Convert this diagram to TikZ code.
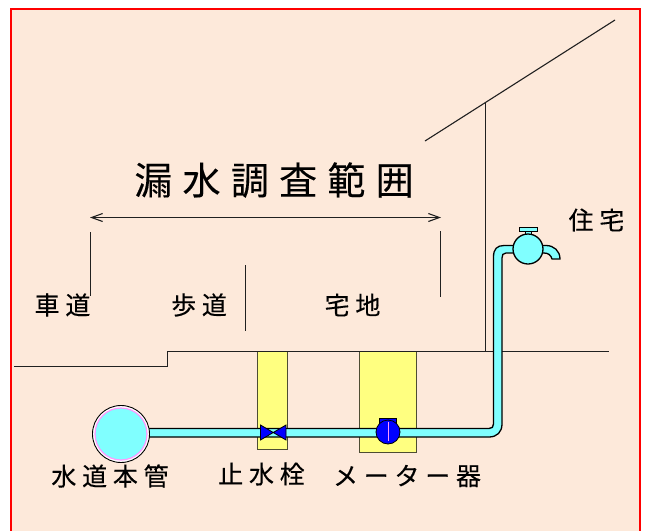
\documentclass[tikz,border=0pt]{standalone}
\usepackage{fontspec}
\usetikzlibrary{arrows.meta}
\newfontfamily\jpsmall[LetterSpace=23,FakeBold=0.25]{Noto Sans CJK JP}
\newfontfamily\jptitle[LetterSpace=27,FakeBold=0.25]{Noto Sans CJK JP}
\definecolor{bgpeach}{HTML}{FDE9DA}
\definecolor{pipecyan}{HTML}{80FFFF}
\definecolor{pityellow}{HTML}{FFFF80}
\definecolor{ringpink}{HTML}{FF99FF}
\definecolor{lineink}{HTML}{202020}
\tikzset{
  x=1pt,y=-1pt,
  thinline/.style={draw=lineink,line width=1.1pt},
  pit/.style={fill=pityellow,draw=lineink!80!pityellow,line width=1.1pt},
  pipe/.style={fill=pipecyan,draw=black,line width=1.3pt},
  fitting/.style={fill=blue,draw=black,line width=.8pt},
  lab/.style={inner sep=0pt,text=black,font=\fontsize{25}{25}\jpsmall},
  titlelab/.style={inner sep=0pt,text=black,font=\fontsize{38}{38}\jptitle},
}
\begin{document}
\begin{tikzpicture}
\useasboundingbox (0,0) rectangle (649,531);
\fill[white] (0,0) rectangle (649,531);
\fill[bgpeach] (11,9) rectangle (640,540);
\draw[red,line width=2pt] (11,9) -- (640,9) (11,8) -- (11,531) (640,8) -- (640,531);
% roof and wall
\coordinate (roofL) at (425,141);
\coordinate (roofR) at (615,20);
\coordinate (wallT) at (485.5,102);
\coordinate (wallB) at (485.5,351.5);
\draw[thinline] (roofL) -- (roofR);
\draw[thinline] (wallT) -- (wallB);
% pits
\path[pit] (257.5,351.5) rectangle (287.5,449.5);
\path[pit] (359.5,351.5) rectangle (416.5,452.5);
% ground
\coordinate (gL) at (14,366.5);
\coordinate (gR) at (609,351.5);
\draw[thinline] (gL) -- (167.5,366.5) -- (167.5,351.5) -- (gR);
% range arrow and ticks
\coordinate (arL) at (90,217.5);
\coordinate (arR) at (441,217.5);
\draw[thinline,{Straight Barb[length=11pt,width=8pt]}-{Straight Barb[length=11pt,width=8pt]}] (arL) -- (arR);
\coordinate (t1a) at (90.5,232); \coordinate (t1b) at (90.5,296);
\coordinate (t2a) at (245.5,265); \coordinate (t2b) at (245.5,331);
\coordinate (t3a) at (440.5,231); \coordinate (t3b) at (440.5,297);
\draw[thinline] (t1a) -- (t1b);
\draw[thinline] (t2a) -- (t2b);
\draw[thinline] (t3a) -- (t3b);
% pipe
\path[pipe] (148,428.5) -- (489,428.5)
  .. controls (492,428.5) and (493.5,427) .. (493.5,424)
  -- (493.5,257) .. controls (493.5,249) and (497,245.5) .. (504,245.5)
  -- (515,245.5) -- (515,253) -- (506,253)
  .. controls (503,253) and (502,255) .. (502,258)
  -- (502,424) .. controls (502,432) and (497,437) .. (489,437)
  -- (148,437) -- cycle;
% tap spout
\path[pipe] (540,245.5) -- (546,245.5) .. controls (554,245.5) and (560,251) .. (560,259)
  -- (552,259) .. controls (551,255) and (548,253) .. (544,253) -- (540,253) -- cycle;
% tap stem and handle
\path[pipe,line width=.9pt] (525,231) rectangle (531,238);
\path[pipe,line width=.9pt] (519,227) rectangle (537,231);
% tap body
\node[circle,pipe,minimum size=30pt,inner sep=0pt] (tap) at (528,249) {};
% main
\node[circle,draw=black,fill=white,line width=.9pt,minimum size=57pt,inner sep=0pt] (mainouter) at (121,434) {};
\node[circle,draw=ringpink,fill=pipecyan,line width=1.2pt,minimum size=52pt,inner sep=0pt] (mainpipe) at (121,434) {};
% valve
\path[fitting] (260.5,425) -- (286,440) -- (286,425) -- (260.5,440) -- cycle;
% meter
\path[fitting] (379,418) rectangle (396,425);
\node[circle,fitting,minimum size=24pt,inner sep=0pt] (meter) at (388,432) {};
\draw[ringpink,line width=1pt] (388,422) -- (388,441);
% labels
\node[titlelab] (title) at (274,180) {漏水調査範囲};
\node[lab] (l1) at (62.5,305) {車道};
\node[lab] (l2) at (199,305) {歩道};
\node[lab] (l3) at (352.5,305) {宅地};
\node[lab] (l4) at (596.5,220) {住宅};
\node[lab] (l5) at (110,476) {水道本管};
\node[lab] (l6) at (261.5,474) {止水栓};
\node[lab] (l7) at (407,476) {メーター器};
\end{tikzpicture}
\end{document}
